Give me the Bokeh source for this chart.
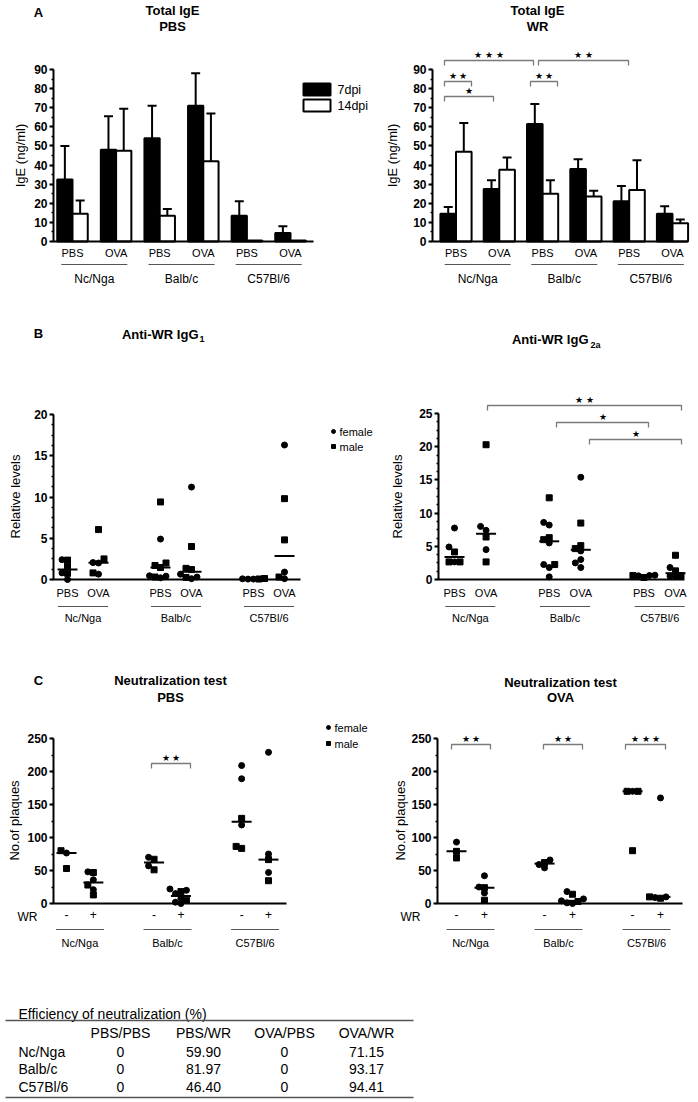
import numpy as np
from bokeh.plotting import figure
from bokeh.models import (Range1d, LinearAxis, SingleIntervalTicker, FixedTicker,
                          ColumnDataSource, Whisker, TeeHead, CustomJSTickFormatter)
from bokeh.layouts import column, row
from bokeh.core.properties import value
from bokeh.embed import file_html
from bokeh.resources import INLINE

FONT = "Liberation Sans"

# ---------------- data ----------------
strains = ["Nc/Nga", "Balb/c", "C57Bl/6"]
treatments = ["PBS", "OVA"]
wr_states = ["-", "+"]
dpi_labels = ["7dpi", "14dpi"]

# Panel A: total IgE (ng/ml); order Nc PBS, Nc OVA, Balb PBS, Balb OVA, C57 PBS, C57 OVA
ige_pbs_7 = [32.5, 48.0, 54.0, 71.0, 13.5, 4.5]
ige_pbs_7_err = [50.0, 65.5, 71.0, 88.0, 21.0, 8.0]
ige_pbs_14 = [14.5, 47.5, 13.5, 42.0, 0.5, 0.5]
ige_pbs_14_err = [21.5, 69.5, 17.0, 67.0, 0.5, 0.5]
ige_wr_7 = [14.5, 27.5, 61.5, 38.0, 21.0, 14.5]
ige_wr_7_err = [18.0, 32.0, 72.0, 43.0, 29.0, 18.5]
ige_wr_14 = [47.0, 37.5, 25.0, 23.5, 27.0, 9.5]
ige_wr_14_err = [62.0, 44.0, 32.0, 26.5, 42.5, 11.5]

# Panel B: relative levels, per category (same order as A)
igg1_female = [[2.4, 0.8, 0.0], [2.05, 2.0, 0.65], [4.9, 0.45, 0.4, 0.2],
               [11.2, 0.65, 0.3, 0.1], [0.08, 0.05, 0.05], [16.3, 0.9, 0.1]]
igg1_male = [[2.35, 1.6, 0.75], [6.05, 2.5, 0.8], [9.4, 2.0, 1.7, 1.45, 0.3],
             [4.0, 1.35, 1.2, 0.25], [0.12, 0.06], [9.8, 4.8, 0.3]]
igg2a_female = [[7.75, 4.9, 2.65], [8.0, 7.4, 4.5], [8.6, 8.2, 5.5, 2.25, 1.8, 0.4],
                [15.4, 4.3, 3.0, 2.5, 1.8], [0.65, 0.6, 0.55], [1.8, 0.5, 0.45]]
igg2a_male = [[4.15, 2.65, 2.65], [20.3, 6.4, 2.65], [12.3, 6.3, 6.0, 2.25],
              [8.5, 5.1, 4.65], [0.6, 0.3], [3.65, 1.3, 0.6]]

# Panel C: No. of plaques; order Nc -, Nc +, Balb -, Balb +, C57 -, C57 +
neut_pbs_female = [[76.5], [48, 36, 21], [70, 57], [22, 20, 15, 8, 2, 0],
                   [209, 189, 119], [229, 75, 47]]
neut_pbs_male = [[80, 53], [47, 28, 13], [67, 51], [18, 5],
                 [129, 86.5, 83.5], [66.5, 34.5]]
neut_ova_female = [[93], [42, 25, 16], [66, 59, 54], [18, 7, 4, 1, 0],
                   [170], [160, 10, 9]]
neut_ova_male = [[79, 69], [24, 5], [62], [14, 3], [170, 170, 80], [10, 8]]

# Table
table_rows = ["Nc/Nga", "Balb/c", "C57Bl/6"]
table_cols = ["PBS/PBS", "PBS/WR", "OVA/PBS", "OVA/WR"]
table_vals = [[0, 59.90, 0, 71.15], [0, 81.97, 0, 93.17], [0, 46.40, 0, 94.41]]


# ---------------- helpers ----------------
class PMap:
    """Maps page pixel positions to data units for one panel figure."""
    def __init__(self, ox, oy, w, h, xa, ya):
        self.ox, self.oy, self.w, self.h = ox, oy, w, h
        self.xa, self.ya = xa, ya

    def x(self, px):
        v0, p0, v1, p1 = self.xa
        return v0 + (px - p0) * (v1 - v0) / (p1 - p0)

    def y(self, py):
        v0, p0, v1, p1 = self.ya
        return v0 + (py - p0) * (v1 - v0) / (p1 - p0)

    @property
    def ppx(self):
        v0, p0, v1, p1 = self.xa
        return abs((p1 - p0) / (v1 - v0))

    @property
    def ppy(self):
        v0, p0, v1, p1 = self.ya
        return abs((p1 - p0) / (v1 - v0))

    def make(self):
        return figure(width=self.w, height=self.h,
                      x_range=Range1d(self.x(self.ox), self.x(self.ox + self.w)),
                      y_range=Range1d(self.y(self.oy + self.h), self.y(self.oy)),
                      x_axis_type=None, y_axis_type=None, toolbar_location=None,
                      output_backend="svg", min_border=0, outline_line_color=None,
                      background_fill_color="white", border_fill_color="white")


def T(p, m, px, py, s, size="12px", style="normal", align="center",
      baseline="middle", angle=0.0, color="black"):
    p.text(x=[m.x(px)], y=[m.y(py)], text=[s], text_font=value(FONT),
           text_font_size=size, text_font_style=style, text_align=align,
           text_baseline=baseline, angle=angle, text_color=color)


def add_axes(p, m, yaxis_px, xend_px, ymax, interval, nminor, xticks, xlabels,
             xlab_size="11px", xstandoff=5):
    xa0 = m.x(yaxis_px)
    xa1 = m.x(xend_px)
    yax = LinearAxis(fixed_location=xa0, bounds=(0, ymax),
                     ticker=SingleIntervalTicker(interval=interval, num_minor_ticks=nminor),
                     axis_line_width=2, axis_line_color="black",
                     major_tick_in=0, major_tick_out=4, major_tick_line_width=2,
                     minor_tick_in=0, minor_tick_out=2, minor_tick_line_width=1.5,
                     major_label_standoff=2, major_label_text_font=FONT,
                     major_label_text_font_style="bold", major_label_text_font_size="12px",
                     major_label_text_color="black")
    p.add_layout(yax, "left")
    fmt = CustomJSTickFormatter(args=dict(pos=list(xticks), labs=list(xlabels)), code="""
        let best = 0; let bd = 1e9;
        for (let i = 0; i < pos.length; i++) {
            const d = Math.abs(pos[i] - tick);
            if (d < bd) { bd = d; best = i; }
        }
        return labs[best];
    """)
    xax = LinearAxis(fixed_location=0, bounds=(xa0, xa1),
                     ticker=FixedTicker(ticks=list(xticks)), formatter=fmt,
                     axis_line_width=2, axis_line_color="black",
                     major_tick_in=0, major_tick_out=0, minor_tick_in=0, minor_tick_out=0,
                     major_label_standoff=xstandoff, major_label_text_font=FONT,
                     major_label_text_font_size=xlab_size, major_label_text_color="black")
    p.add_layout(xax, "below")


def brackets(p, m, specs, tick=5):
    for x0, x1, yl, stars in specs:
        p.multi_line(xs=[[m.x(x0), m.x(x0), m.x(x1), m.x(x1)]],
                     ys=[[m.y(yl + tick), m.y(yl), m.y(yl), m.y(yl + tick)]],
                     line_color="#7a7a7a", line_width=1.3)
        T(p, m, (x0 + x1) / 2, yl - 1, stars, size="9px", baseline="bottom")


def group_underlines(p, m, centers, half_px, y_line, y_text, size):
    hw = half_px / m.ppx
    p.segment(x0=[c - hw for c in centers], x1=[c + hw for c in centers],
              y0=[m.y(y_line)] * len(centers), y1=[m.y(y_line)] * len(centers),
              line_color="#555555", line_width=1.2)
    p.text(x=centers, y=[m.y(y_text)] * len(centers), text=strains,
           text_font=value(FONT), text_font_size=size, text_align="center",
           text_baseline="middle", text_color="black")


def swarm(vals, ppx, ppy, step=5.5, diam=5.0):
    order = sorted(range(len(vals)), key=lambda i: vals[i])
    placed = []
    offs = [0.0] * len(vals)
    for i in order:
        yp = vals[i] * ppy
        xp = 0.0
        for k in [0, -1, 1, -2, 2, -3, 3, -4, 4]:
            xp = k * step
            if all((xp - a) ** 2 + (yp - b) ** 2 >= diam ** 2 for a, b in placed):
                break
        placed.append((xp, yp))
        offs[i] = xp / ppx
    return offs


def scatter_panel(p, m, fem, mal, positions, med_half_px=10):
    fx, fy, mx, my = [], [], [], []
    s0, s1, med = [], [], []
    hw = med_half_px / m.ppx
    for pos, f, ml in zip(positions, fem, mal):
        vals = list(f) + list(ml)
        offs = swarm(vals, m.ppx, m.ppy)
        for j, v in enumerate(vals):
            if j < len(f):
                fx.append(pos + offs[j]); fy.append(v)
            else:
                mx.append(pos + offs[j]); my.append(v)
        med.append(float(np.median(vals)))
        s0.append(pos - hw); s1.append(pos + hw)
    p.segment(x0=s0, x1=s1, y0=med, y1=med, line_color="black", line_width=2)
    p.scatter(fx, fy, marker="circle", size=6, fill_color="black", line_color="black")
    p.scatter(mx, my, marker="square", size=6, fill_color="black", line_color="black")


def bar_panel(p, m, v7, e7, v14, e14, bw):
    pos = [float(i + 1) for i in range(len(v7))]
    x7 = [q - bw / 2 for q in pos]
    x14 = [q + bw / 2 for q in pos]
    p.vbar(x=x7, top=v7, width=bw, bottom=0, fill_color="black",
           line_color="black", line_width=2)
    p.vbar(x=x14, top=v14, width=bw, bottom=0, fill_color="white",
           line_color="black", line_width=2)
    xs, lo, up = [], [], []
    for xx, v, e in zip(x7 + x14, v7 + v14, e7 + e14):
        if e > v:
            xs.append(xx); lo.append(v); up.append(e)
    src = ColumnDataSource(dict(x=xs, lower=lo, upper=up))
    p.add_layout(Whisker(source=src, base="x", lower="lower", upper="upper",
                         line_color="black", line_width=2, lower_head=None,
                         upper_head=TeeHead(size=9, line_width=2, line_color="black")))
    return pos


A_cats = [t for s in strains for t in treatments]
LW, RW = 376, 320

# ---------------- Panel A left ----------------
mA1 = PMap(0, 0, LW, 295, (1, 72, 6, 290), (0, 241, 90, 69))
pA1 = mA1.make()
posA = bar_panel(pA1, mA1, ige_pbs_7, ige_pbs_7_err, ige_pbs_14, ige_pbs_14_err, 0.35)
add_axes(pA1, mA1, 53, 313, 90, 10, 2, posA, A_cats, xstandoff=5)
T(pA1, mA1, 38, 12, "A", size="13px", style="bold")
T(pA1, mA1, 172, 10, "Total IgE", size="13px", style="bold")
T(pA1, mA1, 172, 26, "PBS", size="13px", style="bold")
T(pA1, mA1, 20, 155, "IgE (ng/ml)", size="13px", angle=np.pi / 2)
group_underlines(pA1, mA1, [1.5, 3.5, 5.5], 33, 264, 278, "12px")
pA1.rect(x=[mA1.x(316.5)] * 2, y=[mA1.y(89), mA1.y(105)], width=27, height=12,
         width_units="screen", height_units="screen",
         fill_color=["black", "white"], line_color="black", line_width=2)
for yy, lab in zip([89, 105], dpi_labels):
    T(pA1, mA1, 337, yy, lab, size="12.5px", align="left")

# ---------------- Panel A right ----------------
mA2 = PMap(LW, 0, RW, 295, (1, 455.5, 6, 672), (0, 241, 90, 69))
pA2 = mA2.make()
posA2 = bar_panel(pA2, mA2, ige_wr_7, ige_wr_7_err, ige_wr_14, ige_wr_14_err, 0.36)
add_axes(pA2, mA2, 432, 687, 90, 10, 2, posA2, A_cats, xstandoff=5)
T(pA2, mA2, 537, 10, "Total IgE", size="13px", style="bold")
T(pA2, mA2, 537, 26, "WR", size="13px", style="bold")
T(pA2, mA2, 392, 155, "IgE (ng/ml)", size="13px", angle=np.pi / 2)
group_underlines(pA2, mA2, [1.5, 3.5, 5.5], 33, 264, 278, "12px")
brackets(pA2, mA2, [(444, 533, 60, "★ ★ ★"), (538, 628, 60, "★ ★"),
                    (444, 471, 81, "★ ★"), (444, 493, 96, "★"),
                    (530, 557, 81, "★ ★")])

# ---------------- Panel B ----------------
B_pos = [g * 3.0 + s for g in range(3) for s in range(2)]
B_centers = [g * 3.0 + 0.5 for g in range(3)]

mB1 = PMap(0, 295, LW, 330, (0, 67, 7, 284), (0, 579, 20, 414))
pB1 = mB1.make()
scatter_panel(pB1, mB1, igg1_female, igg1_male, B_pos)
add_axes(pB1, mB1, 53, 300, 20, 5, 4, B_pos, A_cats, xstandoff=7)
T(pB1, mB1, 38, 333, "B", size="13px", style="bold")
T(pB1, mB1, 198, 334, "Anti-WR IgG", size="13px", style="bold", align="right")
T(pB1, mB1, 199, 338, "1", size="9px", style="bold", align="left")
T(pB1, mB1, 15, 496, "Relative levels", size="13px", angle=np.pi / 2)
group_underlines(pB1, mB1, B_centers, 25, 606, 617, "11px")
pB1.scatter([mB1.x(333)], [mB1.y(431)], marker="circle", size=4, color="black")
pB1.scatter([mB1.x(333)], [mB1.y(446)], marker="square", size=4, color="black")
T(pB1, mB1, 339, 431, "female", size="11px", align="left")
T(pB1, mB1, 339, 446, "male", size="11px", align="left")

mB2 = PMap(LW, 295, RW, 330, (0, 454, 7, 675), (0, 579, 25, 413))
pB2 = mB2.make()
scatter_panel(pB2, mB2, igg2a_female, igg2a_male, B_pos)
add_axes(pB2, mB2, 438, 684, 25, 5, 4, B_pos, A_cats, xstandoff=7)
T(pB2, mB2, 588, 339, "Anti-WR IgG", size="13px", style="bold", align="right")
T(pB2, mB2, 590, 344, "2a", size="9px", style="bold", align="left")
T(pB2, mB2, 397, 496, "Relative levels", size="13px", angle=np.pi / 2)
group_underlines(pB2, mB2, B_centers, 25, 606, 617, "11px")
brackets(pB2, mB2, [(487, 681, 405, "★ ★"), (556, 648, 422, "★"),
                    (589, 681, 439, "★")])

# ---------------- Panel C ----------------
C_labels = [w for s in strains for w in wr_states]
GAP_L = 3.26
C_pos_L = [g * GAP_L + s for g in range(3) for s in range(2)]
C_cent_L = [g * GAP_L + 0.5 for g in range(3)]

mC1 = PMap(0, 625, LW, 365, (0, 66, 7.52, 268), (0, 903, 250, 738))
pC1 = mC1.make()
scatter_panel(pC1, mC1, neut_pbs_female, neut_pbs_male, C_pos_L)
add_axes(pC1, mC1, 53, 286, 250, 50, 2, C_pos_L, C_labels, xlab_size="12px", xstandoff=6)
T(pC1, mC1, 38, 680, "C", size="13px", style="bold")
T(pC1, mC1, 170, 680, "Neutralization test", size="13px", style="bold")
T(pC1, mC1, 170, 697, "PBS", size="13px", style="bold")
T(pC1, mC1, 14, 820, "No.of plaques", size="13px", angle=np.pi / 2)
T(pC1, mC1, 27, 916, "WR", size="12px")
group_underlines(pC1, mC1, C_cent_L, 24, 929, 942, "11px")
brackets(pC1, mC1, [(151, 190, 763, "★ ★")])
pC1.scatter([mC1.x(328)], [mC1.y(727)], marker="circle", size=4, color="black")
pC1.scatter([mC1.x(328)], [mC1.y(743)], marker="square", size=4, color="black")
T(pC1, mC1, 334, 727, "female", size="11px", align="left")
T(pC1, mC1, 334, 743, "male", size="11px", align="left")

GAP_R = 3.15
C_pos_R = [g * GAP_R + s for g in range(3) for s in range(2)]
C_cent_R = [g * GAP_R + 0.5 for g in range(3)]
mC2 = PMap(LW, 625, RW, 365, (0, 456, 7.3, 660), (0, 903, 250, 738))
pC2 = mC2.make()
scatter_panel(pC2, mC2, neut_ova_female, neut_ova_male, C_pos_R)
add_axes(pC2, mC2, 437, 682, 250, 50, 2, C_pos_R, C_labels, xlab_size="12px", xstandoff=6)
T(pC2, mC2, 560, 682, "Neutralization test", size="13px", style="bold")
T(pC2, mC2, 560, 697, "OVA", size="13px", style="bold")
T(pC2, mC2, 400, 820, "No.of plaques", size="13px", angle=np.pi / 2)
T(pC2, mC2, 410, 916, "WR", size="12px")
group_underlines(pC2, mC2, C_cent_R, 24, 929, 942, "11px")
brackets(pC2, mC2, [(451, 490, 744, "★ ★"), (543, 582, 744, "★ ★"),
                    (625, 665, 744, "★ ★ ★")])

# ---------------- Table ----------------
mT = PMap(0, 990, LW + RW, 110, (0, 0, 1, 1), (0, 0, 1, 1))
pT = mT.make()
T(pT, mT, 18, 1013, "Efficiency of neutralization (%)", size="14px", align="left")
pT.segment(x0=[5, 5], x1=[413, 413], y0=[1020, 1097], y1=[1020, 1097],
           line_color="#555555", line_width=1.5)
col_x = [120, 203, 284, 366]
for cx, c in zip(col_x, table_cols):
    T(pT, mT, cx, 1032, c, size="14px")
row_y = [1051, 1068, 1086]
for ry, r, vals in zip(row_y, table_rows, table_vals):
    T(pT, mT, 18, ry, r, size="14px", align="left")
    for cx, v in zip(col_x, vals):
        T(pT, mT, cx, ry, "0" if v == 0 else f"{v:.2f}", size="14px")

layout = column(row(pA1, pA2), row(pB1, pB2), row(pC1, pC2), pT)
open("out.html", "w").write(file_html(layout, INLINE))
